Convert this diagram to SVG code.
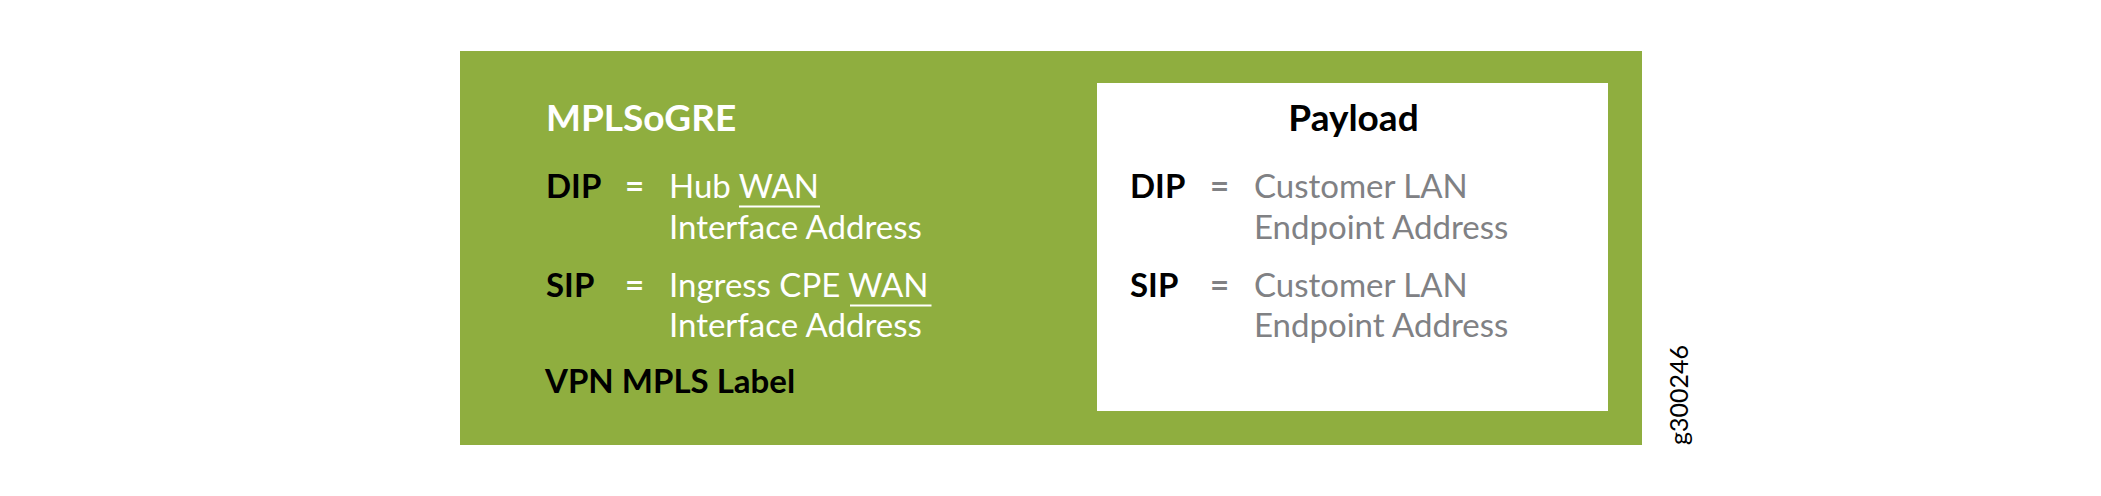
<svg xmlns="http://www.w3.org/2000/svg" width="2101" height="496" viewBox="0 0 2101 496">
<style>
text{font-family:Lato,"Noto Sans","Liberation Sans",sans-serif}
.title{font-size:37px;font-weight:700}
.lbl{font-size:33px;font-weight:700;fill:#000}
.eq{font-size:33px;font-weight:700}
.w{font-size:33px;font-weight:400;fill:#fff}
.g{font-size:33px;font-weight:400;fill:#808184}
.ul{stroke:#fff;stroke-width:2}
</style>
<rect width="2101" height="496" fill="#fff"/>
<g id="mplsogre">
<rect x="460" y="51" width="1182" height="394" fill="#8fae3f"/>
<text class="title" x="546" y="130.7" fill="#fff">MPLSoGRE</text>
<text class="lbl" x="546" y="198.3">DIP</text>
<text class="eq" x="625" y="198.3" fill="#fff">=</text>
<text class="w" x="669" y="198.3">Hub WAN</text>
<line class="ul" x1="739" y1="206.5" x2="820" y2="206.5"/>
<text class="w" x="669" y="238.7">Interface Address</text>
<text class="lbl" x="546" y="297.3">SIP</text>
<text class="eq" x="625" y="297.3" fill="#fff">=</text>
<text class="w" x="669" y="297.3">Ingress CPE WAN</text>
<line class="ul" x1="850" y1="305.5" x2="931.5" y2="305.5"/>
<text class="w" x="669" y="336.7">Interface Address</text>
<text class="lbl" x="545" y="393.3">VPN MPLS Label</text>
</g>
<g id="payload">
<rect x="1097" y="83" width="511" height="328" fill="#fff"/>
<text class="title" x="1353.5" y="130.7" text-anchor="middle" fill="#000">Payload</text>
<text class="lbl" x="1130" y="198.3">DIP</text>
<text class="eq" x="1210" y="198.3" fill="#808184">=</text>
<text class="g" x="1254" y="198.3">Customer LAN</text>
<text class="g" x="1254" y="238.7">Endpoint Address</text>
<text class="lbl" x="1130" y="297.3">SIP</text>
<text class="eq" x="1210" y="297.3" fill="#808184">=</text>
<text class="g" x="1254" y="297.3">Customer LAN</text>
<text class="g" x="1254" y="336.7">Endpoint Address</text>
</g>
<g id="connectors"></g>
<text x="1688" y="395" transform="rotate(-90 1688 395)" text-anchor="middle" font-family="'Liberation Sans',Arial,sans-serif" font-size="25" fill="#000">g300246</text>
</svg>
